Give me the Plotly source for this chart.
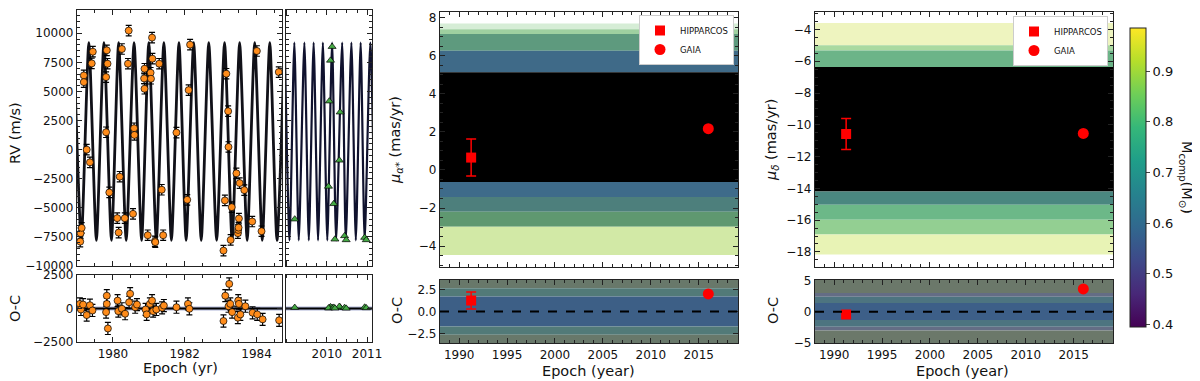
import plotly.graph_objects as go

# ---------------- data ----------------
# RV (orange, 1979-1985)
rv_epoch = [1979.09, 1979.10, 1979.13, 1979.19, 1979.19, 1979.27, 1979.36, 1979.41, 1979.44,
            1979.81, 1979.81, 1979.83, 1979.85, 1979.90, 1980.12, 1980.16, 1980.19, 1980.25,
            1980.33, 1980.44, 1980.42, 1980.56, 1980.59, 1980.60, 1980.88, 1980.87, 1980.88,
            1980.97, 1981.05, 1981.06, 1981.09, 1981.10, 1981.17, 1981.18, 1981.29, 1981.36,
            1981.40, 1981.77, 1982.07, 1982.11, 1982.15, 1983.08, 1983.12, 1983.16, 1983.21,
            1983.22, 1983.28, 1983.31, 1983.44, 1983.48, 1983.49, 1983.50, 1983.51, 1983.53,
            1983.66, 1983.88, 1984.01, 1984.14, 1984.62]
rv_value = [-7905, -7184, -6724, 6379, 5802, 0, -1092, 7413, 8420,
            1494, 6235, 8534, 7384, -3680, -5890, -7127, -2327, 8649,
            -5890, 10230, 7384, -5517, 1839, 1264, 6954, 6120, 5230,
            -7356, 6609, 6091, 9626, 7815, -7872, -7950, 7384, -3448,
            -7356, 1466, -4310, 5115, 9022, -8678, -4367, 6523, 3304,
            229, -7758, -4942, -2040, -7184, -6900, -6700, -5920, -2873,
            -3477, -6178, 8477, -7011, 6666]
rv_err = 450

# RV (green triangles, 2009-2011)
rv2_epoch = [2010.13, 2010.09, 2010.06, 2010.33, 2010.31, 2010.04, 2010.17, 2009.20,
             2010.20, 2010.44, 2010.48, 2010.94, 2010.98]
rv2_value = [8850, 7670, 4167, 3218, -918, -3160, -4655, -5975,
             -7700, -7412, -7758, -7556, -7758]
oc2_value = [60, 120, 40, 90, 150, 30, 80, 70, 20, 60, 10, 90, 40]

# RV residuals (orange)
oc_epoch = [1979.08, 1979.11, 1979.17, 1979.27, 1979.36, 1979.43, 1979.83, 1979.81, 1979.83,
            1979.86, 1980.13, 1980.15, 1980.25, 1980.34, 1980.48, 1980.45, 1980.62, 1980.67,
            1980.91, 1980.94, 1981.03, 1981.09, 1981.12, 1981.21, 1981.37, 1981.42, 1981.77,
            1982.09, 1982.13, 1983.24, 1983.13, 1983.08, 1983.22, 1983.27, 1983.32, 1983.49,
            1983.51, 1983.48, 1983.55, 1983.69, 1983.89, 1984.02, 1984.17, 1984.63]
oc_value = [345, -74, 294, -490, 243, -147, 345, -272, 956, -1492, 588, -198, -22, -390,
            1102, 463, 96, 294, -74, -441, 345, 588, -198, -74, 51, 220, 96, 345, -22,
            1837, 956, -933, 169, 345, -272, 588, 345, -684, -441, 169, -319, -441, -808, -882]
oc_err = 450

# best-fit RV curve turning points (dense orbit)
model_left_epoch = [1978.91, 1979.12, 1979.33, 1979.54, 1979.75, 1979.96, 1980.16, 1980.37,
                    1980.59, 1980.80, 1981.00, 1981.21, 1981.42, 1981.63, 1981.84, 1982.04,
                    1982.25, 1982.46, 1982.67, 1982.89, 1983.11, 1983.32, 1983.53, 1983.74,
                    1983.95, 1984.16, 1984.37, 1984.57, 1984.78]
model_left_rv = [9200, -7800, 9200, -7800, 9200, -7800, 9200, -7800,
                 9200, -7800, 9200, -7800, 9200, -7800, 9200, -7800,
                 9200, -7800, 9200, -7800, 9200, -7800, 9200, -7800,
                 9200, -7800, 9200, -7800, 9200]
model_right_epoch = [2008.95, 2009.07, 2009.19, 2009.30, 2009.44, 2009.55, 2009.67, 2009.78,
                     2009.90, 2010.01, 2010.13, 2010.23, 2010.38, 2010.47, 2010.61, 2010.72,
                     2010.84, 2010.94, 2011.08, 2011.20]
model_right_rv = [9200, -7800, 9200, -7800, 9200, -7800, 9200, -7800,
                  9200, -7800, 9200, -7800, 9200, -7800, 9200, -7800,
                  9200, -7800, 9200, -7800]

# proper motions: Hipparcos / Gaia
astro_epoch = [1991.25, 2016.0]
pma_value = [0.65, 2.17]
pma_err = [0.97, 0.0]
pma_oc = [1.24, 1.98]
pma_oc_err = [0.95, 0.0]
pmd_value = [-10.58, -10.54]
pmd_err = [0.97, 0.0]
pmd_oc = [-0.43, 3.67]

# envelope of orbit draws (band edges, mas/yr)
pma_band_lo = [7.40, 7.14, 6.27, 5.14, -0.63, -1.42, -2.20, -2.99, -4.47]
pma_band_hi = [7.70, 7.40, 7.14, 6.27, 5.14, -0.63, -1.42, -2.20, -2.99]
pmd_band_lo = [-5.00, -5.32, -6.36, -14.20, -15.03, -15.97, -16.91, -18.17]
pmd_band_hi = [-3.60, -5.00, -5.32, -6.36, -14.20, -15.03, -15.97, -16.91]
pma_oc_lo = [2.62, 1.69, -1.69, -2.62, -3.56]
pma_oc_hi = [3.56, 2.62, 1.69, -1.69, -2.62]
pmd_oc_lo = [3.0, 2.4, 1.4, -1.3, -2.4, -3.0, -5.0]
pmd_oc_hi = [5.1, 3.0, 2.4, 1.4, -1.3, -2.4, -3.0]

mass_ticks = [0.4, 0.5, 0.6, 0.7, 0.8, 0.9]

# ---------------- styles ----------------
pma_band_col = ['#d6edd6', '#9fd0a0', '#5e9a7e', '#3f6a88', '#000000', '#3e6b8a', '#4d7f7c',
                '#5f9870', '#d2e9a6']
pmd_band_col = ['#eef4bf', '#a9d9a0', '#6cb488', '#000000', '#4a8780', '#6cb888', '#93cf92',
                '#e8f3b5']
pma_oc_col = ['#68786a', '#527a78', '#3d5f86', '#527a78', '#68786a']
pmd_oc_col = ['#6b786a', '#646d85', '#4d7480', '#3d5f88', '#4d7480', '#646d85', '#6b786a']

FONT = 'DejaVu Sans'
W, H = 1200, 381
OFF = 8  # page body margin in the browser


def px_x(p):
    return (p - OFF) / W


def px_y(p):
    return 1 - (p - OFF) / H


fig = go.Figure()

# RV panels
fig.add_trace(go.Scatter(x=model_left_epoch, y=model_left_rv, mode='lines',
                         line=dict(color='#111118', width=2.8, shape='spline', smoothing=0.6),
                         xaxis='x', yaxis='y', showlegend=False, hoverinfo='skip'))
fig.add_trace(go.Scatter(x=rv_epoch, y=rv_value, mode='markers',
                         error_y=dict(type='constant', value=rv_err, color='black', thickness=1.2, width=3),
                         marker=dict(color='#ff8c1a', size=7, line=dict(color='black', width=0.7)),
                         xaxis='x', yaxis='y', showlegend=False))
fig.add_trace(go.Scatter(x=model_right_epoch, y=model_right_rv, mode='lines',
                         line=dict(color='#10122e', width=2.2, shape='spline', smoothing=0.6),
                         xaxis='x2', yaxis='y2', showlegend=False, hoverinfo='skip'))
fig.add_trace(go.Scatter(x=rv2_epoch, y=rv2_value, mode='markers',
                         marker=dict(color='#44aa44', size=7, symbol='triangle-up',
                                     line=dict(color='black', width=0.7)),
                         xaxis='x2', yaxis='y2', showlegend=False))

# RV residual panels
fig.add_trace(go.Scatter(x=oc_epoch, y=oc_value, mode='markers',
                         error_y=dict(type='constant', value=oc_err, color='black', thickness=1.2, width=3),
                         marker=dict(color='#ff8c1a', size=7, line=dict(color='black', width=0.7)),
                         xaxis='x3', yaxis='y3', showlegend=False))
fig.add_trace(go.Scatter(x=rv2_epoch, y=oc2_value, mode='markers',
                         marker=dict(color='#44aa44', size=7, symbol='triangle-up',
                                     line=dict(color='black', width=0.7)),
                         xaxis='x4', yaxis='y4', showlegend=False))

shapes = []
for ax in ['3', '4']:
    shapes.append(dict(type='rect', xref=f'x{ax} domain', yref=f'y{ax}', x0=0, x1=1,
                       y0=-140, y1=140, fillcolor='rgba(95,110,175,0.5)', line_width=0, layer='below'))
    shapes.append(dict(type='line', xref=f'x{ax} domain', yref=f'y{ax}', x0=0, x1=1,
                       y0=0, y1=0, line=dict(color='black', width=2), layer='below'))


def add_bands(ax, lo, hi, cols):
    for a, b, c in zip(lo, hi, cols):
        shapes.append(dict(type='rect', xref=f'x{ax} domain', yref=f'y{ax}', x0=0, x1=1,
                           y0=a, y1=b, fillcolor=c, line_width=0, layer='below'))


add_bands('5', pma_band_lo, pma_band_hi, pma_band_col)
add_bands('6', pma_oc_lo, pma_oc_hi, pma_oc_col)
add_bands('7', pmd_band_lo, pmd_band_hi, pmd_band_col)
add_bands('8', pmd_oc_lo, pmd_oc_hi, pmd_oc_col)
for ax in ['6', '8']:
    shapes.append(dict(type='line', xref=f'x{ax} domain', yref=f'y{ax}', x0=0, x1=1,
                       y0=0, y1=0, line=dict(color='black', width=2, dash='dash')))

# proper motion panels
names = ['HIPPARCOS', 'GAIA']
symbols = ['square', 'circle']
sizes = [10, 11]
for i in range(2):
    fig.add_trace(go.Scatter(x=[astro_epoch[i]], y=[pma_value[i]], mode='markers', name=names[i],
                             error_y=dict(type='data', array=[pma_err[i]], color='red', thickness=1.5, width=5,
                                          visible=pma_err[i] > 0),
                             marker=dict(color='red', symbol=symbols[i], size=sizes[i]),
                             xaxis='x5', yaxis='y5', legend='legend'))
    fig.add_trace(go.Scatter(x=[astro_epoch[i]], y=[pma_oc[i]], mode='markers', showlegend=False,
                             error_y=dict(type='data', array=[pma_oc_err[i]], color='red', thickness=1.5, width=5,
                                          visible=pma_oc_err[i] > 0),
                             marker=dict(color='red', symbol=symbols[i], size=sizes[i]),
                             xaxis='x6', yaxis='y6'))
    fig.add_trace(go.Scatter(x=[astro_epoch[i]], y=[pmd_value[i]], mode='markers', name=names[i],
                             error_y=dict(type='data', array=[pmd_err[i]], color='red', thickness=1.5, width=5,
                                          visible=pmd_err[i] > 0),
                             marker=dict(color='red', symbol=symbols[i], size=sizes[i]),
                             xaxis='x7', yaxis='y7', legend='legend2'))
    fig.add_trace(go.Scatter(x=[astro_epoch[i]], y=[pmd_oc[i]], mode='markers', showlegend=False,
                             marker=dict(color='red', symbol=symbols[i], size=sizes[i]),
                             xaxis='x8', yaxis='y8'))

# colorbar (companion mass)
fig.add_trace(go.Scatter(x=[2000], y=[-10], mode='markers', showlegend=False, hoverinfo='skip',
                         marker=dict(color=[0.6], colorscale='Viridis', cmin=0.395, cmax=0.985,
                                     size=1, opacity=0, showscale=True,
                                     colorbar=dict(x=px_x(1130), xanchor='left', thickness=16,
                                                   xpad=0, ypad=0,
                                                   y=px_y(177.5), yanchor='middle', len=299, lenmode='pixels',
                                                   outlinecolor='#222', outlinewidth=1,
                                                   tickvals=mass_ticks, ticks='outside', ticklen=4,
                                                   tickfont=dict(size=13, family=FONT, color='#111'))),
                         xaxis='x7', yaxis='y7'))

# ---------------- axes ----------------
frame = dict(showline=True, linecolor='#222', linewidth=1.2, mirror='allticks', ticks='inside',
             ticklen=5, tickcolor='#222', showgrid=False, zeroline=False, automargin=False,
             tickfont=dict(size=12, family=FONT, color='#111'))


def axis(dom, rng, **kw):
    d = dict(frame)
    d.update(domain=dom, range=rng)
    d.update(kw)
    return d


rv_dom_y = [px_y(266), px_y(10)]
oc_dom_y = [px_y(342), px_y(275)]
pm_dom_y = [px_y(267), px_y(12)]
pmoc_dom_y = [px_y(343), px_y(280)]
left_x = [px_x(77), px_x(282)]
right_x = [px_x(285.5), px_x(372.3)]
pma_x = [px_x(440), px_x(738)]
pmd_x = [px_x(815), px_x(1113)]
yr_left = [1979.0, 1984.71]
yr_right = [2008.97, 2011.13]
yr_pm = [1988.0, 2019.1]
mn = lambda d: dict(ticks='inside', dtick=d, ticklen=3, tickcolor='#222')

fig.update_layout(
    xaxis=axis(left_x, yr_left, anchor='y', showticklabels=False, dtick=2, minor=mn(0.5)),
    yaxis=axis(rv_dom_y, [-10000, 12000], anchor='x', dtick=2500, tick0=0, tickformat='d',
               minor=mn(500)),
    xaxis2=axis(right_x, yr_right, anchor='y2', showticklabels=False, dtick=1, minor=mn(0.25)),
    yaxis2=axis(rv_dom_y, [-10000, 12000], anchor='x2', showticklabels=False, dtick=2500,
                minor=mn(500)),
    xaxis3=axis(left_x, yr_left, anchor='y3', tickvals=[1980, 1982, 1984], minor=mn(0.5)),
    yaxis3=axis(oc_dom_y, [-2500, 2500], anchor='x3', tickvals=[-2500, 0, 2500], tickformat='d'),
    xaxis4=axis(right_x, yr_right, anchor='y4', tickvals=[2010, 2011], minor=mn(0.25)),
    yaxis4=axis(oc_dom_y, [-2500, 2500], anchor='x4', showticklabels=False, tickvals=[-2500, 0, 2500]),
    xaxis5=axis(pma_x, yr_pm, anchor='y5', showticklabels=False, dtick=5, tick0=1990, minor=mn(1)),
    yaxis5=axis(pm_dom_y, [-5.1, 8.3], anchor='x5', dtick=2, tick0=0, minor=mn(0.5)),
    xaxis6=axis(pma_x, yr_pm, anchor='y6', dtick=5, tick0=1990, minor=mn(1)),
    yaxis6=axis(pmoc_dom_y, [-3.56, 3.56], anchor='x6', tickvals=[-2.5, 0, 2.5], tickformat='.1f'),
    xaxis7=axis(pmd_x, yr_pm, anchor='y7', showticklabels=False, dtick=5, tick0=1990, minor=mn(1)),
    yaxis7=axis(pm_dom_y, [-18.95, -2.9], anchor='x7', dtick=2, tick0=0, minor=mn(0.5)),
    xaxis8=axis(pmd_x, yr_pm, anchor='y8', dtick=5, tick0=1990, minor=mn(1)),
    yaxis8=axis(pmoc_dom_y, [-5, 5.1], anchor='x8', tickvals=[-5, 0, 5]),
)

legend_style = dict(bgcolor='white', bordercolor='#cccccc', borderwidth=1,
                    font=dict(size=8.5, family=FONT, color='#111'), xanchor='right', yanchor='top',
                    itemwidth=30, tracegroupgap=0)
fig.update_layout(
    legend=dict(x=px_x(734), y=px_y(15), **legend_style),
    legend2=dict(x=px_x(1108), y=px_y(16), **legend_style),
)

# ---------------- labels ----------------
lab = dict(size=14.5, family=FONT, color='#111')
annots = [
    ('RV (m/s)', 15, 133, -90),
    ('O-C', 15, 309, -90),
    ('Epoch (yr)', 180, 368, 0),
    ('<i>μ</i><sub><i>α*</i></sub> (mas/yr)', 396, 140, -90),
    ('O-C', 397, 311, -90),
    ('Epoch (year)', 588, 371, 0),
    ('<i>μ</i><sub><i>δ</i></sub> (mas/yr)', 772, 140, -90),
    ('O-C', 773, 311, -90),
    ('Epoch (year)', 963, 371, 0),
    ('M<sub>comp</sub>(M<sub>⊙</sub>)', 1186, 177, 90),
]
fig.update_layout(annotations=[
    dict(text=t, x=px_x(x), y=px_y(y), xref='paper', yref='paper', showarrow=False,
         textangle=a, font=lab, xanchor='center', yanchor='middle')
    for t, x, y, a in annots
])

fig.update_layout(
    shapes=shapes,
    width=W, height=H,
    margin=dict(l=0, r=0, t=0, b=0),
    paper_bgcolor='white', plot_bgcolor='white',
    font=dict(family=FONT),
)

fig.write_html("out.html")
